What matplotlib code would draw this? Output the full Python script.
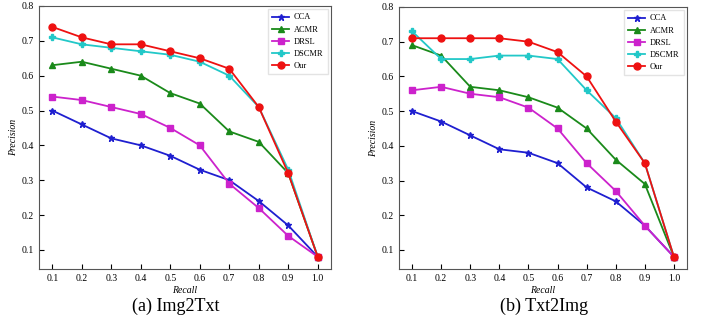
import matplotlib.pyplot as plt

plt.rcParams['font.family'] = 'Liberation Serif'
plt.rcParams['xtick.direction'] = 'in'
plt.rcParams['ytick.direction'] = 'in'
plt.rcParams['xtick.labelsize'] = 7
plt.rcParams['ytick.labelsize'] = 7
plt.rcParams['axes.edgecolor'] = '#555555'

recall = [0.1, 0.2, 0.3, 0.4, 0.5, 0.6, 0.7, 0.8, 0.9, 1.0]
methods = ['CCA', 'ACMR', 'DRSL', 'DSCMR', 'Our']

# Img2Txt
i2t_cca = [0.50, 0.46, 0.42, 0.40, 0.37, 0.33, 0.30, 0.24, 0.17, 0.08]
i2t_acmr = [0.63, 0.64, 0.62, 0.60, 0.55, 0.52, 0.44, 0.41, 0.32, 0.08]
i2t_drsl = [0.54, 0.53, 0.51, 0.49, 0.45, 0.40, 0.29, 0.22, 0.14, 0.08]
i2t_dscmr = [0.71, 0.69, 0.68, 0.67, 0.66, 0.64, 0.60, 0.51, 0.33, 0.08]
i2t_our = [0.74, 0.71, 0.69, 0.69, 0.67, 0.65, 0.62, 0.51, 0.32, 0.08]

# Txt2Img
t2i_cca = [0.50, 0.47, 0.43, 0.39, 0.38, 0.35, 0.28, 0.24, 0.17, 0.08]
t2i_acmr = [0.69, 0.66, 0.57, 0.56, 0.54, 0.51, 0.45, 0.36, 0.29, 0.08]
t2i_drsl = [0.56, 0.57, 0.55, 0.54, 0.51, 0.45, 0.35, 0.27, 0.17, 0.08]
t2i_dscmr = [0.73, 0.65, 0.65, 0.66, 0.66, 0.65, 0.56, 0.48, 0.35, 0.08]
t2i_our = [0.71, 0.71, 0.71, 0.71, 0.70, 0.67, 0.60, 0.47, 0.35, 0.08]

styles = [('#1f1fd0', '*', 5), ('#1a8a1a', '^', 4.5), ('#cc22cc', 's', 4.5),
          ('#22c8c8', 'P', 5), ('#ee1111', 'o', 5)]

fig = plt.figure(figsize=(7.06, 3.21), dpi=100)
ax1 = fig.add_axes([39 / 706, 1 - 269 / 321, 292 / 706, 263 / 321])
ax2 = fig.add_axes([399 / 706, 1 - 269 / 321, 288 / 706, 262 / 321])

panels = [(ax1, [i2t_cca, i2t_acmr, i2t_drsl, i2t_dscmr, i2t_our], '(a) Img2Txt', 176),
          (ax2, [t2i_cca, t2i_acmr, t2i_drsl, t2i_dscmr, t2i_our], '(b) Txt2Img', 544)]

for ax, series, caption, cx in panels:
    for name, vals, (c, m, ms) in zip(methods, series, styles):
        ax.plot(recall, vals, color=c, marker=m, markersize=ms, linewidth=1.3, label=name)
    ax.set_xticks(recall)
    ax.set_xticklabels(['%.1f' % r for r in recall])
    ax.set_yticks([0.1, 0.2, 0.3, 0.4, 0.5, 0.6, 0.7, 0.8])
    ax.set_ylim(0.045, 0.8)
    ax.set_xlim(0.055, 1.045)
    ax.set_xlabel('Recall', fontsize=7, style='italic', labelpad=2)
    ax.set_ylabel('Precision', fontsize=7, style='italic', labelpad=3)
    ax.legend(loc='upper right', fontsize=6, frameon=True, fancybox=False,
              edgecolor='#dddddd', handlelength=2.0, borderpad=0.5, labelspacing=0.5,
              handletextpad=0.6, borderaxespad=0.4)
    fig.text(cx / 706, 1 - 306 / 321, caption, fontsize=13, ha='center', va='center')

fig.savefig('out.png', dpi=100)
